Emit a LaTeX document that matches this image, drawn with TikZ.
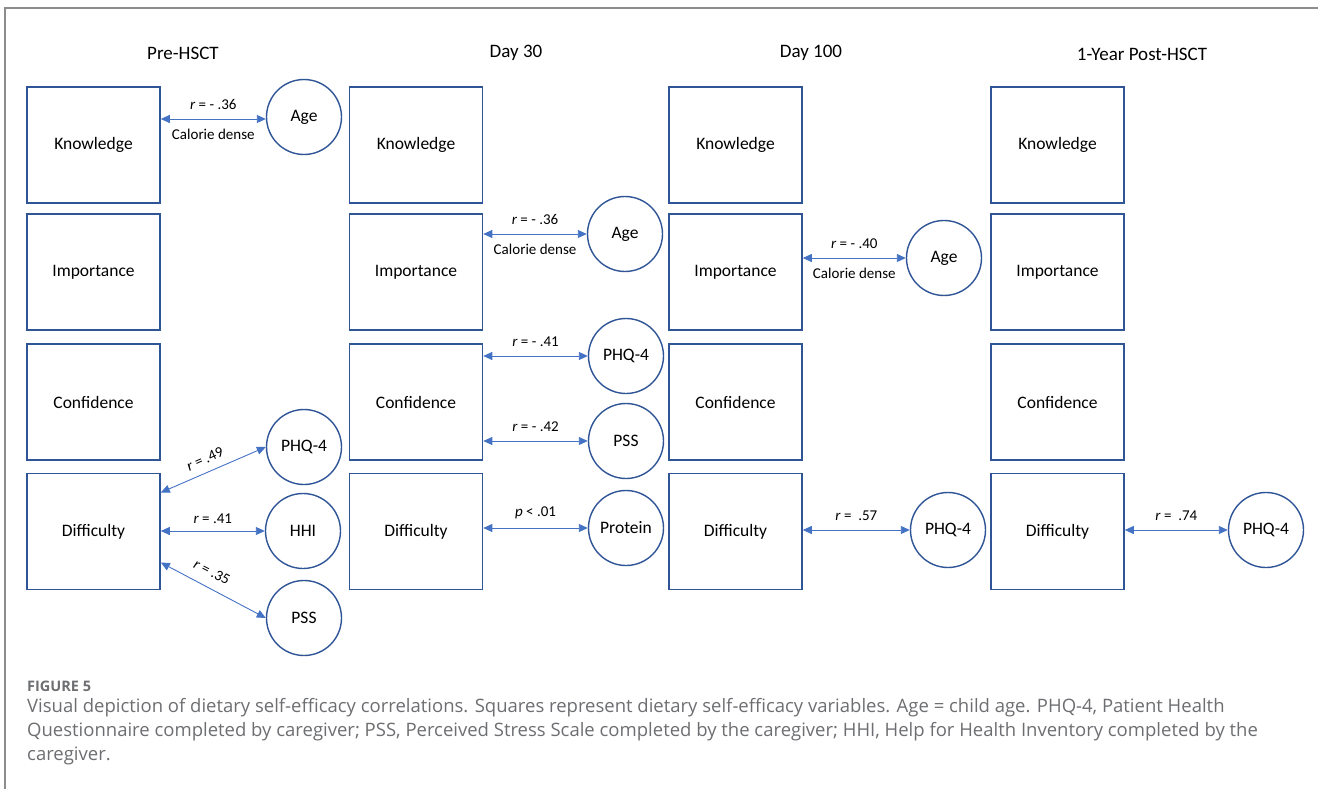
\documentclass[tikz,border=0pt]{standalone}
\usepackage{fontspec}
\setmainfont{Carlito}
\newfontfamily\capfont{Open Sans}
\usetikzlibrary{arrows.meta,calc}
\definecolor{boxblue}{HTML}{2F5597}
\definecolor{arrblue}{HTML}{4472C4}
\definecolor{capgray}{HTML}{6D6E71}
\definecolor{framegray}{HTML}{8C8C8C}
\begin{document}
\begin{tikzpicture}[x=1pt,y=-1pt,
  varbox/.style={draw=boxblue,line width=1.6pt,minimum width=133pt,minimum height=116pt,inner sep=0pt,font=\fontsize{17.5}{20}\selectfont},
  meas/.style={draw=boxblue,line width=1.4pt,circle,minimum size=75pt,inner sep=0pt,font=\fontsize{17.5}{20}\selectfont},
  corr/.style={draw=arrblue,line width=0.9pt,{Triangle[length=9pt,width=8pt]}-{Triangle[length=9pt,width=8pt]}},
  lab/.style={font=\fontsize{15}{17}\selectfont,inner sep=1pt},
  up/.style={midway,above=8pt,lab},
  down/.style={midway,below=9pt,lab},
  coltitle/.style={font=\fontsize{19}{22}\selectfont},
  capline/.style={anchor=west,inner sep=0pt,text=capgray,font=\capfont\fontsize{18.5}{21}\selectfont}]
\useasboundingbox (0,0) rectangle (1318,789);
\draw[framegray,line width=1.2pt] (5,789) -- (5,8) -- (1318,8);
% column titles
\node[coltitle] (t1) at (183,53) {Pre-HSCT};
\node[coltitle] (t2) at (516,53) {Day 30};
\node[coltitle] (t3) at (811,53) {Day 100};
\node[coltitle] (t4) at (1142,54) {1-Year Post-HSCT};
% boxes
\foreach \c/\x in {1/93.5,2/416,3/735.5,4/1057.5}{
  \node[varbox] (k\c) at (\x,145) {Knowledge};
  \node[varbox] (i\c) at (\x,272) {Importance};
  \node[varbox] (c\c) at (\x,402) {Confidence};
  \node[varbox] (d\c) at (\x,531.5) {Difficulty};
}
% circles
\node[meas] (age1) at (304,117) {Age};
\node[meas] (phq1) at (304,447) {PHQ-4};
\node[meas] (hhi1) at (303,531) {HHI};
\node[meas] (pss1) at (304,618) {PSS};
\node[meas] (age2) at (625,234) {Age};
\node[meas] (phq2) at (626,356) {PHQ-4};
\node[meas] (pss2) at (626,441) {PSS};
\node[meas] (prot2) at (626,528) {Protein};
\node[meas] (age3) at (944,258) {Age};
\node[meas] (phq3) at (948,530) {PHQ-4};
\node[meas] (phq4) at (1266,530) {PHQ-4};
% Pre-HSCT
\draw[corr] ($(age1.west -| k1.east)+(0,2)$) -- ($(age1.west)+(0,2)$)
  node[up] {\textit{r} = - .36}
  node[down] {Calorie dense};
\coordinate (d1a) at ($(d1.east)+(0,-39)$);
\coordinate (d1c) at ($(d1.east)+(0,31)$);
\draw[corr] (d1a) -- (phq1.west);
\node[lab,rotate=24] (l49) at (205,459) {\textit{r} = .49};
\draw[corr] (hhi1.west -| d1.east) -- (hhi1.west)
  node[midway,above=6pt,lab] {\textit{r} = .41};
\draw[corr] (d1c) -- (pss1.west);
\node[lab,rotate=-27] (l35) at (212,572) {\textit{r} = .35};
% Day 30
\draw[corr] (age2.west -| i2.east) -- (age2.west)
  node[up] {\textit{r} = - .36}
  node[down] {Calorie dense};
\draw[corr] (phq2.west -| c2.east) -- (phq2.west)
  node[up] {\textit{r} = - .41};
\draw[corr] (pss2.west -| c2.east) -- (pss2.west)
  node[up] {\textit{r} = - .42};
\draw[corr] (prot2.west -| d2.east) -- (prot2.west)
  node[up] {\textit{p} < .01};
% Day 100
\draw[corr] (age3.west -| i3.east) -- (age3.west)
  node[up] {\textit{r} = - .40}
  node[down] {Calorie dense};
\draw[corr] (phq3.west -| d3.east) -- (phq3.west)
  node[up] {\textit{r} =\ \ .57};
% 1-Year
\draw[corr] (phq4.west -| d4.east) -- (phq4.west)
  node[up] {\textit{r} =\ \ .74};
% caption
\node[capline,font=\capfont\bfseries\fontsize{14.5}{17}\selectfont] (fig) at (27,686) {FIGURE 5};
\node[capline] (cap1) at (27,708) {Visual depiction of dietary self-efficacy correlations. Squares represent dietary self-efficacy variables. Age = child age. PHQ-4, Patient Health};
\node[capline] (cap2) at (27,732) {Questionnaire completed by caregiver; PSS, Perceived Stress Scale completed by the caregiver; HHI, Help for Health Inventory completed by the};
\node[capline] (cap3) at (27,756) {caregiver.};
\end{tikzpicture}
\end{document}
